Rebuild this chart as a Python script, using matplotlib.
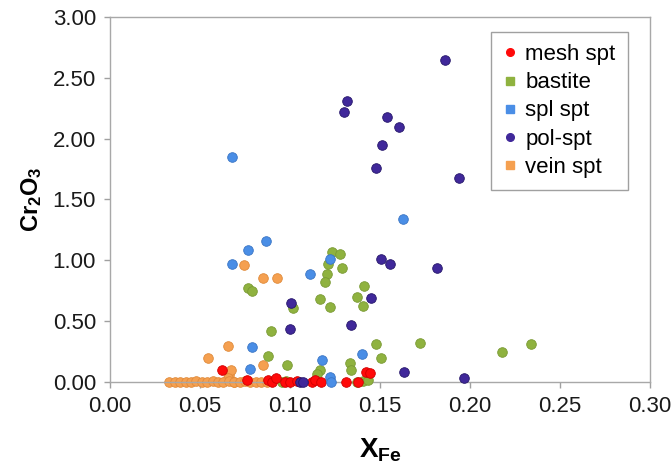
#!/usr/bin/env python3
"""Cr2O3 vs XFe scatter by serpentine type."""
import matplotlib
matplotlib.use("Agg")
import matplotlib.pyplot as plt

plt.rcParams["font.family"] = ["Liberation Sans", "DejaVu Sans"]
plt.rcParams["mathtext.fontset"] = "custom"
plt.rcParams["mathtext.rm"] = "Liberation Sans"
plt.rcParams["mathtext.bf"] = "Liberation Sans:bold"

# values (XFe, Cr2O3 wt%)
mesh_x = [0.062, 0.076, 0.088, 0.090, 0.092, 0.097, 0.100, 0.104, 0.112,
          0.114, 0.117, 0.131, 0.138, 0.1425, 0.1445]
mesh_y = [0.10, 0.02, 0.015, 0.0, 0.03, 0.0, 0.0, 0.01, 0.0,
          0.02, 0.0, 0.0, 0.0, 0.08, 0.075]

bast_x = [0.0765, 0.079, 0.0895, 0.088, 0.0985, 0.0955, 0.098, 0.1015,
          0.1165, 0.122, 0.1235, 0.128, 0.129, 0.121, 0.1205, 0.1195,
          0.141, 0.137, 0.1407, 0.1478, 0.1506, 0.172, 0.2176, 0.234,
          0.1333, 0.134, 0.1167, 0.115, 0.1407, 0.1435, 0.137]
bast_y = [0.77, 0.75, 0.42, 0.21, 0.14, 0.0, 0.01, 0.61,
          0.68, 0.62, 1.07, 1.05, 0.94, 0.97, 0.89, 0.82,
          0.79, 0.70, 0.625, 0.31, 0.195, 0.318, 0.25, 0.31,
          0.153, 0.10, 0.10, 0.066, 0.01, 0.02, 0.0]

spl_x = [0.068, 0.163, 0.0867, 0.0765, 0.068, 0.111, 0.122, 0.0787,
         0.0778, 0.118, 0.140, 0.122, 0.123]
spl_y = [1.85, 1.34, 1.16, 1.085, 0.967, 0.885, 1.01, 0.29,
         0.104, 0.18, 0.23, 0.045, 0.0]

pol_x = [0.186, 0.1315, 0.130, 0.1537, 0.1607, 0.151, 0.1478, 0.194,
         0.1506, 0.1556, 0.182, 0.145, 0.1006, 0.134, 0.100, 0.1635,
         0.197, 0.1056, 0.1075]
pol_y = [2.65, 2.31, 2.22, 2.18, 2.095, 1.95, 1.76, 1.68,
         1.01, 0.967, 0.934, 0.687, 0.646, 0.468, 0.433, 0.085,
         0.035, 0.0, 0.0]

vein_x = [0.0657, 0.0546, 0.0746, 0.0852, 0.093, 0.085, 0.0663, 0.067,
          0.0655, 0.069, 0.033, 0.036, 0.039, 0.042, 0.045, 0.048, 0.051,
          0.054, 0.057, 0.060, 0.063, 0.066, 0.069, 0.072, 0.075, 0.078,
          0.081, 0.084, 0.087]
vein_y = [0.296, 0.194, 0.96, 0.857, 0.857, 0.14, 0.06, 0.10,
          0.03, 0.0, 0.0, 0.0, 0.0, 0.0, 0.0, 0.01, 0.0,
          0.0, 0.01, 0.0, 0.0, 0.01, 0.0, 0.0, 0.01, 0.0,
          0.0, 0.0, 0.0]

series = [
    ("mesh spt", mesh_x, mesh_y, "#ff0a0a", "#d00000", "o", 4),
    ("bastite", bast_x, bast_y, "#8fb23f", "#7a9a34", "s", 3),
    ("spl spt", spl_x, spl_y, "#4a8ee6", "#3a75c4", "s", 4),
    ("pol-spt", pol_x, pol_y, "#40289a", "#25166a", "o", 5),
    ("vein spt", vein_x, vein_y, "#f5a050", "#e08a3a", "s", 2),
]

fig = plt.figure(figsize=(6.72, 4.72), dpi=100)
ax = fig.add_axes([0.1637, 0.1907, 0.8033, 0.7733])

for label, xs, ys, face, edge, mk, z in series:
    ax.scatter(xs, ys, s=48, c=face, edgecolors=edge, linewidths=0.6,
               marker="o", zorder=z, label=label, clip_on=False)

ax.set_xlim(0, 0.30)
ax.set_ylim(0, 3.0)
ax.set_xticks([0.0, 0.05, 0.10, 0.15, 0.20, 0.25, 0.30])
ax.set_yticks([0.0, 0.5, 1.0, 1.5, 2.0, 2.5, 3.0])
ax.set_xticklabels([f"{v:.2f}" for v in ax.get_xticks()])
ax.set_yticklabels([f"{v:.2f}" for v in ax.get_yticks()])
ax.tick_params(labelsize=16, colors="#a0a0a0", labelcolor="#1a1a1a",
               length=4, width=1, direction="out", pad=6)
for sp in ax.spines.values():
    sp.set_color("#a8a8a8")
    sp.set_linewidth(1.0)

ax.set_xlabel(r"$\mathbf{X_{Fe}}$", fontsize=20, labelpad=14)
ax.set_ylabel(r"$\mathbf{Cr_2O_3}$", fontsize=17, labelpad=6)

handles = []
for label, xs, ys, face, edge, mk, z in series:
    h = plt.Line2D([], [], linestyle="none", marker=mk, markersize=5.5,
                   markerfacecolor=face, markeredgecolor=face, label=label)
    handles.append(h)
leg = ax.legend(handles=handles, loc="upper right",
                bbox_to_anchor=(0.959, 0.959), borderaxespad=0,
                fontsize=16, frameon=True, fancybox=False,
                edgecolor="#a0a0a0", framealpha=1, handlelength=0.6,
                handletextpad=0.4, labelspacing=0.32, borderpad=0.55)
leg.get_frame().set_linewidth(1.0)

fig.savefig("out.png", dpi=100)
